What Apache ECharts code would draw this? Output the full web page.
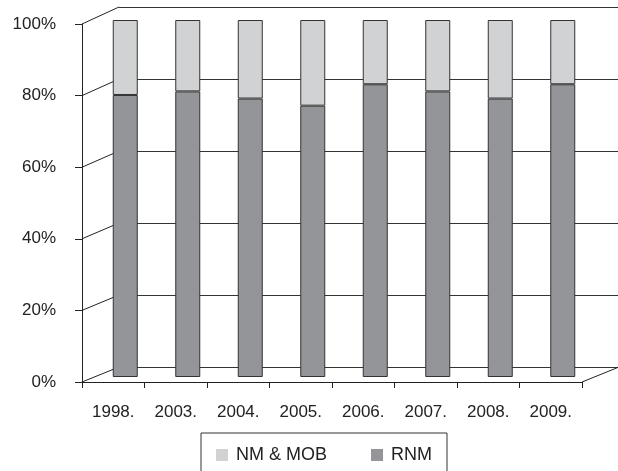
<!DOCTYPE html>
<html>
<head>
<meta charset="utf-8">
<script src="https://cdn.jsdelivr.net/npm/echarts@6/dist/echarts.min.js"></script>
<style>
  html, body { margin: 0; padding: 0; background: #fff; }
  #main { width: 618px; height: 471px; }
</style>
</head>
<body>
<div id="main"></div>
<script>
var years = ['1998.', '2003.', '2004.', '2005.', '2006.', '2007.', '2008.', '2009.'];
var rnm = [79, 80, 78, 76, 82, 80, 78, 82];
var nmMob = [21, 20, 22, 24, 18, 20, 22, 18];
var yTicks = [0, 20, 40, 60, 80, 100];

var chart = echarts.init(document.getElementById('main'));

var font = 'Liberation Sans, Arial, sans-serif';
var textStyle = { color: '#222', fontSize: 17, fontFamily: font };
var lineStyle = { color: '#222', width: 1 };

// front plane, back wall and the bar plane (between the two)
var front = { left: 82, right: 36, top: 24, bottom: 89 };
var back = { left: 119, right: -1, top: 7, bottom: 104 };
var mid = { left: 94, right: 24, top: 20, bottom: 94 };

var option = {
  animation: false,
  grid: [front, back, mid],
  legend: {
    data: ['NM & MOB', 'RNM'],
    left: 201,
    top: 433,
    icon: 'rect',
    itemWidth: 12,
    itemHeight: 12,
    itemGap: 44,
    padding: [13, 15, 30, 15],
    borderColor: '#333',
    borderWidth: 1,
    itemStyle: { borderWidth: 0 },
    textStyle: { color: '#222', fontSize: 18, fontFamily: font, padding: [0, 0, 0, 3] }
  },
  xAxis: [{
    gridIndex: 0,
    type: 'category',
    data: years,
    axisLine: { lineStyle: lineStyle },
    axisTick: { show: true, length: 6, lineStyle: lineStyle },
    axisLabel: Object.assign({ margin: 22 }, textStyle)
  }, {
    gridIndex: 1, type: 'category', data: years, show: false
  }, {
    gridIndex: 2, type: 'category', data: years, show: false
  }],
  yAxis: [{
    gridIndex: 0,
    type: 'value',
    min: 0, max: 100, interval: 20,
    axisLine: { show: true, lineStyle: lineStyle },
    axisTick: { show: true, length: 7, lineStyle: lineStyle },
    splitLine: { show: false },
    axisLabel: Object.assign({ margin: 26, formatter: '{value}%' }, textStyle)
  }, {
    gridIndex: 1,
    type: 'value',
    min: 0, max: 100, interval: 20,
    axisLine: { show: false },
    axisTick: { show: false },
    axisLabel: { show: false },
    splitLine: { show: true, lineStyle: { color: '#333', width: 1 } }
  }, {
    gridIndex: 2, type: 'value', min: 0, max: 100, show: false, splitLine: { show: false }
  }],
  series: [{
    name: 'RNM',
    type: 'bar',
    xAxisIndex: 2,
    yAxisIndex: 2,
    stack: 'a',
    barWidth: 25,
    data: rnm,
    itemStyle: { color: '#939598', borderColor: '#333', borderWidth: 1 }
  }, {
    name: 'NM & MOB',
    type: 'bar',
    xAxisIndex: 2,
    yAxisIndex: 2,
    stack: 'a',
    barWidth: 25,
    data: nmMob,
    itemStyle: { color: '#d1d2d4', borderColor: '#333', borderWidth: 1 }
  }]
};
chart.setOption(option);

// 3d edges: diagonals from the front axis to the back wall
var frontRight = 618 - front.right;
var backRight = 618 - back.right;
var lines = [];
yTicks.forEach(function (v) {
  var yf = chart.convertToPixel({ yAxisIndex: 0 }, v);
  var yb = chart.convertToPixel({ yAxisIndex: 1 }, v);
  lines.push({
    type: 'line', z: 0,
    shape: { x1: front.left, y1: yf, x2: back.left, y2: yb },
    style: { stroke: '#222', lineWidth: 1 }
  });
});
var y0f = chart.convertToPixel({ yAxisIndex: 0 }, 0);
var y0b = chart.convertToPixel({ yAxisIndex: 1 }, 0);
lines.push({
  type: 'line', z: 0,
  shape: { x1: frontRight, y1: y0f, x2: backRight, y2: y0b },
  style: { stroke: '#222', lineWidth: 1 }
});
chart.setOption({ graphic: lines });
</script>
</body>
</html>
